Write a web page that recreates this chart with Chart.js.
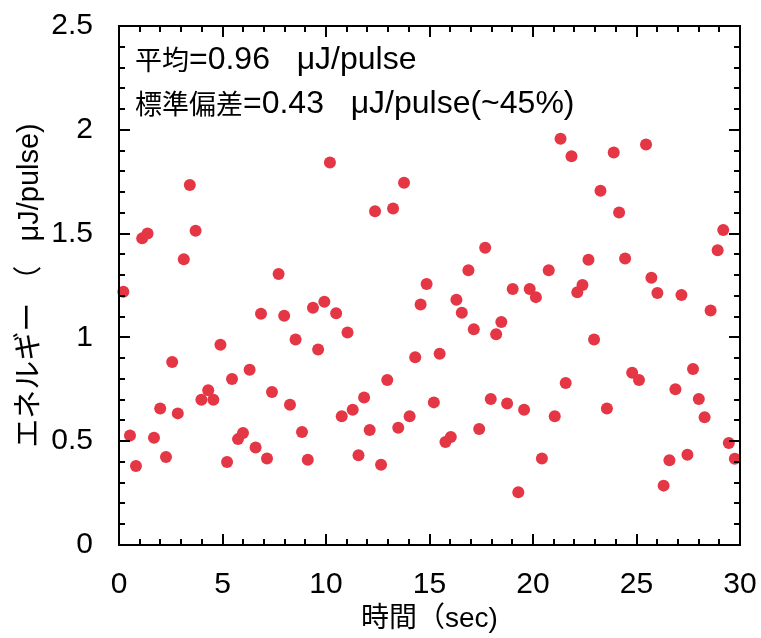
<!DOCTYPE html>
<html>
<head>
<meta charset="utf-8">
<script src="https://cdn.jsdelivr.net/npm/chart.js@4"></script>
<style>
    html, body { margin: 0; padding: 0; background: #fff; }
    #wrap { width: 761px; height: 638px; }
</style>
</head>
<body>
<div id="wrap"><canvas id="energyChart" width="761" height="638"></canvas></div>
<script>

// time (sec) of each pulse
const timeValues = [
    0.21, 0.53, 0.82, 1.12, 1.38, 1.69, 1.99, 2.27, 2.57, 2.84,
    3.13, 3.42, 3.70, 3.98, 4.31, 4.56, 4.90, 5.22, 5.46, 5.75,
    5.99, 6.31, 6.60, 6.86, 7.15, 7.39, 7.71, 7.98, 8.26, 8.53,
    8.84, 9.12, 9.37, 9.62, 9.92, 10.19, 10.49, 10.76, 11.04, 11.29,
    11.57, 11.84, 12.11, 12.37, 12.66, 12.96, 13.24, 13.49, 13.77, 14.04,
    14.31, 14.57, 14.86, 15.21, 15.49, 15.77, 16.03, 16.30, 16.56, 16.88,
    17.14, 17.40, 17.69, 17.96, 18.22, 18.47, 18.75, 19.02, 19.29, 19.57,
    19.84, 20.14, 20.43, 20.76, 21.05, 21.33, 21.58, 21.86, 22.14, 22.39,
    22.68, 22.95, 23.26, 23.57, 23.90, 24.16, 24.45, 24.79, 25.12, 25.46,
    25.72, 26.01, 26.31, 26.59, 26.88, 27.17, 27.46, 27.73, 28.01, 28.29,
    28.58, 28.92, 29.19, 29.46, 29.75
];

// energy (uJ/pulse)
const energyValues = [
    1.22, 0.527, 0.38, 1.477, 1.50, 0.517, 0.658, 0.424, 0.881, 0.634,
    1.376, 1.734, 1.514, 0.70, 0.745, 0.70, 0.965, 0.40, 0.80, 0.51,
    0.54, 0.844, 0.47, 1.114, 0.417, 0.737, 1.305, 1.104, 0.676, 0.99,
    0.544, 0.411, 1.143, 0.942, 1.172, 1.843, 1.116, 0.62, 1.024, 0.652,
    0.432, 0.711, 0.554, 1.608, 0.387, 0.795, 1.621, 0.565, 1.745, 0.62,
    0.904, 1.159, 1.257, 0.687, 0.921, 0.496, 0.52, 1.181, 1.119, 1.324,
    1.039, 0.559, 1.432, 0.703, 1.015, 1.074, 0.682, 1.233, 0.254, 0.652,
    1.233, 1.194, 0.417, 1.323, 0.62, 1.957, 0.78, 1.873, 1.217, 1.252,
    1.374, 0.99, 1.706, 0.658, 1.891, 1.602, 1.38, 0.83, 0.795, 1.929,
    1.287, 1.214, 0.286, 0.408, 0.75, 1.204, 0.435, 0.848, 0.703, 0.615,
    1.13, 1.42, 1.517, 0.491, 0.416
];

const xTicks = [0, 5, 10, 15, 20, 25, 30];
const xTickLabels = ['0', '5', '10', '15', '20', '25', '30'];
const yTicks = [0, 0.5, 1, 1.5, 2, 2.5];
const yTickLabels = ['0', '0.5', '1', '1.5', '2', '2.5'];

const xTitle = '時間（sec)';
const yTitle = 'エネルギー （   μJ/pulse)';
const noteLines = ['平均=0.96   μJ/pulse', '標準偏差=0.43   μJ/pulse(~45%)'];

const LATIN = "'Liberation Sans', Arial, sans-serif";
const CJK = "'Noto Sans CJK JP', sans-serif";
const MIXED = "'Liberation Sans', 'Noto Sans CJK JP', sans-serif";

const points = timeValues.map((t, i) => ({ x: t, y: energyValues[i] }));

// japanese runs a bit smaller than latin runs, like the original figure
function drawMixed(c, text, x, y) {
    const runs = text.match(/[\u3000-\u30ff\u4e00-\u9fff]+|[^\u3000-\u30ff\u4e00-\u9fff]+/g);
    let cx = x;
    runs.forEach(run => {
        const isCjk = /[\u3000-\u30ff\u4e00-\u9fff]/.test(run);
        c.font = isCjk ? '27px ' + CJK : '32px ' + LATIN;
        c.fillText(run, cx, y);
        cx += c.measureText(run).width;
    });
}

// box frame + inward ticks on all four sides, and the two note lines
const frameTicks = {
    id: 'frameTicks',
    afterDraw(chart) {
        const c = chart.ctx;
        const a = chart.chartArea;
        const xs = chart.scales.x;
        const ys = chart.scales.y;
        c.save();
        c.strokeStyle = '#000';
        c.lineWidth = 2;
        c.strokeRect(a.left, a.top, a.right - a.left, a.bottom - a.top);

        c.beginPath();
        for (let i = 0; i <= 30; i++) {
            const px = Math.round(xs.getPixelForValue(i));
            const len = i % 5 === 0 ? 11 : 6;
            c.moveTo(px, a.bottom); c.lineTo(px, a.bottom - len);
            c.moveTo(px, a.top); c.lineTo(px, a.top + len);
        }
        for (let i = 0; i <= 25; i++) {
            const py = Math.round(ys.getPixelForValue(i / 10));
            const len = i % 5 === 0 ? 11 : 6;
            c.moveTo(a.left, py); c.lineTo(a.left + len, py);
            c.moveTo(a.right, py); c.lineTo(a.right - len, py);
        }
        c.stroke();

        c.fillStyle = '#000';
        c.textAlign = 'left';
        c.textBaseline = 'middle';
        drawMixed(c, noteLines[0], a.left + 16, 60);
        drawMixed(c, noteLines[1], a.left + 16, 104);
        c.restore();
    }
};

const ctx = document.getElementById('energyChart').getContext('2d');
const energyChart = new Chart(ctx, {
    type: 'scatter',
    data: {
        datasets: [{
            data: points,
            backgroundColor: 'rgb(228, 54, 68)',
            borderWidth: 0,
            pointRadius: 6,
            pointHoverRadius: 6
        }]
    },
    options: {
        responsive: false,
        animation: false,
        clip: false,
        layout: { padding: { left: 0, right: 21, top: 26, bottom: 0 } },
        plugins: {
            legend: { display: false },
            tooltip: { enabled: false }
        },
        scales: {
            x: {
                type: 'linear',
                min: 0,
                max: 30,
                afterBuildTicks: (s) => { s.ticks = xTicks.map(v => ({ value: v })); },
                afterFit: (s) => {
                    s.height = 93;
                    s.paddingLeft = 0;
                    s.paddingRight = 0;
                },
                grid: { display: false },
                border: { display: false },
                ticks: {
                    color: '#000',
                    padding: 14,
                    maxRotation: 0,
                    font: { family: LATIN, size: 30 },
                    callback: (v, i) => xTickLabels[i]
                },
                title: {
                    display: true,
                    text: xTitle,
                    color: '#000',
                    padding: { top: 0, bottom: 2 },
                    font: { family: MIXED, size: 28 }
                }
            },
            y: {
                type: 'linear',
                min: 0,
                max: 2.5,
                afterBuildTicks: (s) => { s.ticks = yTicks.map(v => ({ value: v })); },
                afterFit: (s) => {
                    s.width = 119;
                    s.paddingTop = 0;
                    s.paddingBottom = 0;
                },
                grid: { display: false },
                border: { display: false },
                ticks: {
                    color: '#000',
                    padding: 18,
                    font: { family: LATIN, size: 30 },
                    callback: (v, i) => yTickLabels[i]
                },
                title: {
                    display: true,
                    text: yTitle,
                    color: '#000',
                    padding: { top: 13, bottom: 0 },
                    font: { family: MIXED, size: 29 }
                }
            }
        }
    },
    plugins: [frameTicks]
});
</script>
</body>
</html>
